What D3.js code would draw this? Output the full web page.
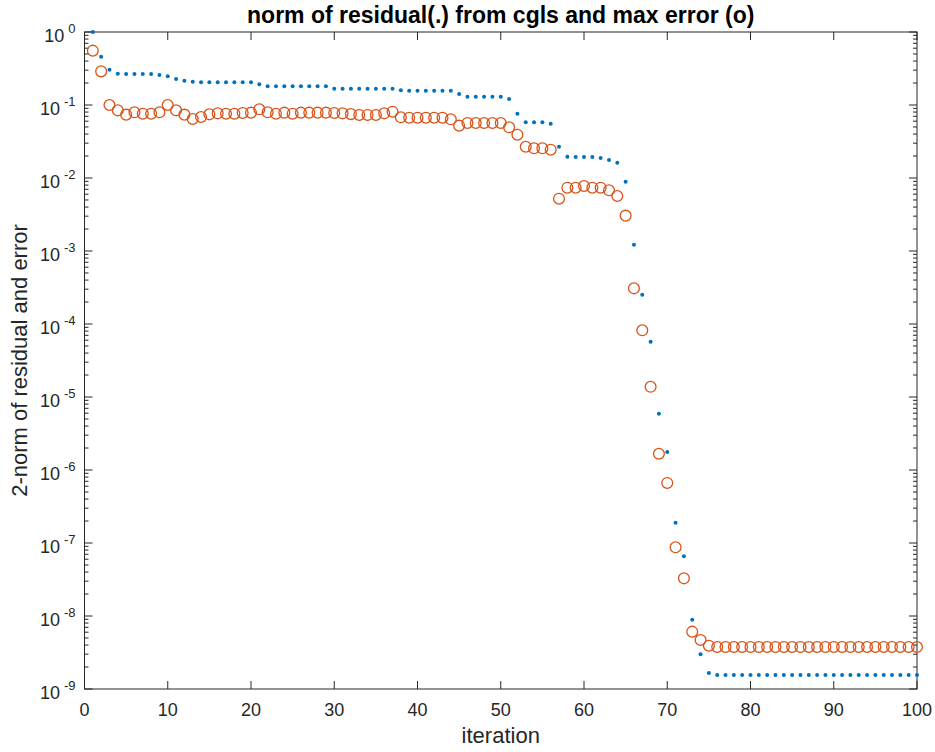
<!DOCTYPE html>
<html>
<head>
<meta charset="utf-8">
<script src="https://cdn.jsdelivr.net/npm/d3@7"></script>
<style>
  body { margin: 0; background: #fff; }
  svg { font-family: "Liberation Sans", Arial, Helvetica, sans-serif; }
</style>
</head>
<body>
<div id="chart"></div>
<script>
// residual norm (blue dots), iterations 1..100
const residual = [
  1.0, 0.459, 0.305, 0.268, 0.266, 0.266, 0.266, 0.266, 0.258, 0.247,
  0.227, 0.215, 0.209, 0.205, 0.205, 0.205, 0.205, 0.205, 0.205, 0.205,
  0.192, 0.180, 0.180, 0.180, 0.180, 0.180, 0.180, 0.180, 0.180, 0.167,
  0.167, 0.167, 0.167, 0.167, 0.167, 0.167, 0.167, 0.159, 0.157, 0.157,
  0.157, 0.157, 0.157, 0.157, 0.1415, 0.130, 0.130, 0.130, 0.130, 0.130,
  0.121, 0.076, 0.058, 0.058, 0.058, 0.0555, 0.0268, 0.0196, 0.0194, 0.0194,
  0.0194, 0.0188, 0.0177, 0.0162, 0.0089, 0.00122, 2.52e-4, 5.73e-5, 5.9e-6, 1.77e-6,
  1.9e-7, 6.56e-8, 8.9e-9, 3.0e-9, 1.66e-9, 1.56e-9, 1.56e-9, 1.56e-9, 1.56e-9, 1.56e-9,
  1.56e-9, 1.56e-9, 1.56e-9, 1.56e-9, 1.56e-9, 1.56e-9, 1.56e-9, 1.56e-9, 1.56e-9, 1.56e-9,
  1.56e-9, 1.56e-9, 1.56e-9, 1.56e-9, 1.56e-9, 1.56e-9, 1.56e-9, 1.56e-9, 1.56e-9, 1.56e-9
];
// max error (orange circles), iterations 1..100
const maxError = [
  0.555, 0.289, 0.100, 0.0845, 0.0738, 0.0794, 0.076, 0.076, 0.0794, 0.100,
  0.0845, 0.0738, 0.0643, 0.0685, 0.0745, 0.0769, 0.076, 0.076, 0.0778, 0.0785,
  0.0873, 0.0794, 0.076, 0.0785, 0.076, 0.0785, 0.0785, 0.0785, 0.0785, 0.0778,
  0.0769, 0.075, 0.073, 0.073, 0.073, 0.0769, 0.081, 0.0678, 0.067, 0.067,
  0.067, 0.067, 0.067, 0.0637, 0.0521, 0.0567, 0.0567, 0.0567, 0.0567, 0.0567,
  0.0495, 0.0392, 0.0268, 0.0255, 0.0255, 0.0244, 0.0052, 0.00736, 0.00736, 0.00777,
  0.00736, 0.00736, 0.00678, 0.00567, 0.00305, 3.08e-4, 8.2e-5, 1.38e-5, 1.67e-6, 6.64e-7,
  8.73e-8, 3.28e-8, 6.1e-9, 4.69e-9, 3.92e-9, 3.76e-9, 3.76e-9, 3.76e-9, 3.76e-9, 3.76e-9,
  3.76e-9, 3.76e-9, 3.76e-9, 3.76e-9, 3.76e-9, 3.76e-9, 3.76e-9, 3.76e-9, 3.76e-9, 3.76e-9,
  3.76e-9, 3.76e-9, 3.76e-9, 3.76e-9, 3.76e-9, 3.76e-9, 3.76e-9, 3.76e-9, 3.76e-9, 3.76e-9
];
const xTicks = [0, 10, 20, 30, 40, 50, 60, 70, 80, 90, 100];
const yExponents = [0, -1, -2, -3, -4, -5, -6, -7, -8, -9];

const width = 935, height = 752;
const margin = { top: 32, right: 18, bottom: 63, left: 84.5 };
const axisColor = "#262626";

const svg = d3.select("#chart").append("svg")
  .attr("width", width)
  .attr("height", height);

const x = d3.scaleLinear().domain([0, 100]).range([margin.left, width - margin.right]);
const y = d3.scaleLog().domain([1e-9, 1]).range([height - margin.bottom, margin.top]);

const x0 = x.range()[0], x1 = x.range()[1];
const y0 = y.range()[0], y1 = y.range()[1];

// minor ticks on log axis
const minor = [];
yExponents.slice(0, -1).forEach(e => {
  for (let m = 2; m <= 9; m++) minor.push(m * Math.pow(10, e - 1));
});

const axes = svg.append("g").attr("stroke", axisColor).attr("stroke-width", 1);

// box
axes.append("rect")
  .attr("x", x0).attr("y", y1)
  .attr("width", x1 - x0).attr("height", y0 - y1)
  .attr("fill", "none");

// x ticks (bottom and top, inward)
axes.selectAll("line.xt").data(xTicks).join("line")
  .attr("x1", d => x(d)).attr("x2", d => x(d))
  .attr("y1", y0).attr("y2", y0 - 8);
axes.selectAll("line.xtt").data(xTicks).join("line")
  .attr("x1", d => x(d)).attr("x2", d => x(d))
  .attr("y1", y1).attr("y2", y1 + 8);

// y major ticks (left and right)
const majors = yExponents.map(e => Math.pow(10, e));
[[x0, 8], [x1, -8]].forEach(([xx, len]) => {
  axes.append("g").selectAll("line").data(majors).join("line")
    .attr("x1", xx).attr("x2", xx + len)
    .attr("y1", d => y(d)).attr("y2", d => y(d));
  axes.append("g").selectAll("line").data(minor).join("line")
    .attr("x1", xx).attr("x2", xx + len / 2)
    .attr("y1", d => y(d)).attr("y2", d => y(d));
});

// x tick labels
svg.append("g").selectAll("text").data(xTicks).join("text")
  .attr("x", d => x(d))
  .attr("y", y0 + 27)
  .attr("text-anchor", "middle")
  .attr("font-size", 18)
  .attr("fill", axisColor)
  .text(d => d);

// y tick labels 10^e
const yl = svg.append("g").selectAll("text").data(yExponents).join("text")
  .attr("x", x0 - 9)
  .attr("y", d => y(Math.pow(10, d)) + 10)
  .attr("text-anchor", "end")
  .attr("font-size", 18)
  .attr("fill", axisColor);
yl.append("tspan").text("10");
yl.append("tspan")
  .attr("dx", 4)
  .attr("dy", -9)
  .attr("font-size", 13)
  .text(d => d);

// axis labels
svg.append("text")
  .attr("x", (x0 + x1) / 2)
  .attr("y", y0 + 54)
  .attr("text-anchor", "middle")
  .attr("font-size", 22)
  .attr("fill", axisColor)
  .text("iteration");

svg.append("text")
  .attr("transform", `translate(27,${(y0 + y1) / 2}) rotate(-90)`)
  .attr("text-anchor", "middle")
  .attr("font-size", 22)
  .attr("fill", axisColor)
  .text("2-norm of residual and error");

// title
svg.append("text")
  .attr("x", (x0 + x1) / 2)
  .attr("y", 23)
  .attr("text-anchor", "middle")
  .attr("font-size", 23)
  .attr("font-weight", "bold")
  .attr("fill", "#000")
  .text("norm of residual(.) from cgls and max error (o)");

// data
const plot = svg.append("g");

plot.append("g").selectAll("circle").data(residual).join("circle")
  .attr("cx", (d, i) => x(i + 1))
  .attr("cy", d => y(d))
  .attr("r", 2)
  .attr("fill", "#0072BD");

plot.append("g").selectAll("circle").data(maxError).join("circle")
  .attr("cx", (d, i) => x(i + 1))
  .attr("cy", d => y(d))
  .attr("r", 5.4)
  .attr("fill", "none")
  .attr("stroke", "#D95319")
  .attr("stroke-width", 1.3);
</script>
</body>
</html>
